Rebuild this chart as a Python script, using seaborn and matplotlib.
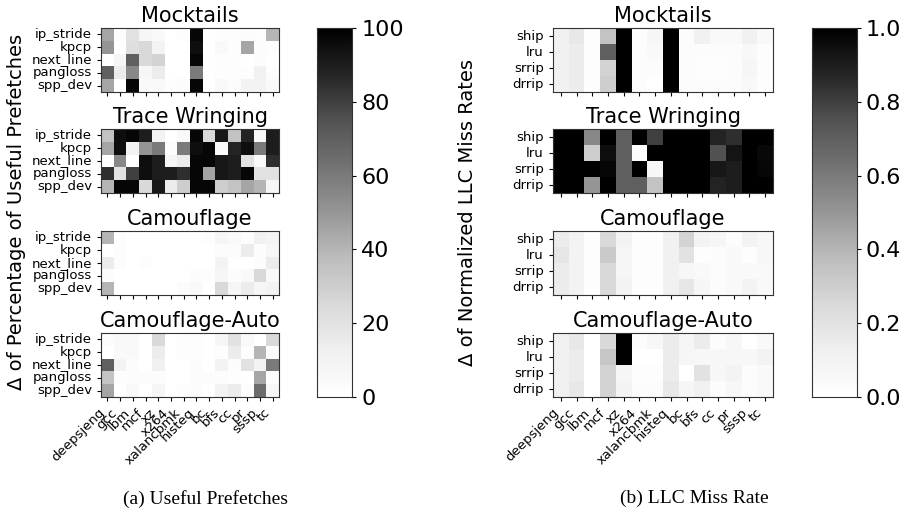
import matplotlib
matplotlib.use("Agg")
import matplotlib.pyplot as plt
import numpy as np
import pandas as pd
import seaborn as sns

BENCHMARKS = ["deepsjeng", "gcc", "lbm", "mcf", "xz", "x264", "xalancbmk",
              "histeq", "bc", "bfs", "cc", "pr", "sssp", "tc"]
PREFETCHERS = ["ip_stride", "kpcp", "next_line", "pangloss", "spp_dev"]
POLICIES = ["ship", "lru", "srrip", "drrip"]
TITLES = ["Mocktails", "Trace Wringing", "Camouflage", "Camouflage-Auto"]

# (a) delta of useful prefetches, percent
pf_mocktails = [
    [45, 3, 20, 8, 5, 0, 2, 98, 0, 2, 2, 3, 2, 40],
    [50, 0, 22, 25, 10, 0, 0, 95, 0, 5, 2, 45, 3, 2],
    [0, 8, 70, 25, 28, 0, 0, 98, 0, 2, 2, 0, 3, 0],
    [70, 15, 55, 8, 15, 0, 0, 60, 0, 2, 2, 2, 12, 2],
    [45, 0, 98, 5, 5, 2, 3, 98, 0, 5, 3, 10, 10, 5],
]
pf_wringing = [
    [35, 95, 98, 90, 10, 0, 5, 98, 25, 92, 35, 88, 5, 90],
    [45, 95, 10, 50, 60, 3, 60, 95, 98, 5, 88, 95, 60, 90],
    [0, 55, 0, 95, 90, 8, 15, 98, 98, 92, 90, 20, 5, 85],
    [85, 20, 80, 95, 90, 90, 85, 98, 45, 92, 90, 98, 20, 20],
    [40, 98, 98, 25, 92, 15, 30, 98, 98, 30, 35, 45, 40, 8],
]
pf_camouflage = [
    [40, 2, 0, 0, 0, 0, 0, 0, 2, 8, 5, 3, 12, 10],
    [0, 2, 0, 0, 0, 0, 0, 0, 0, 3, 3, 15, 3, 8],
    [15, 3, 0, 2, 0, 0, 0, 0, 0, 10, 0, 0, 3, 15],
    [3, 0, 0, 0, 0, 0, 0, 3, 2, 8, 3, 5, 25, 5],
    [40, 0, 0, 0, 0, 0, 3, 5, 0, 25, 8, 15, 8, 10],
]
pf_camo_auto = [
    [3, 5, 5, 0, 25, 0, 2, 2, 0, 8, 20, 5, 0, 25],
    [0, 5, 5, 0, 15, 0, 2, 2, 0, 2, 15, 2, 40, 3],
    [70, 10, 3, 0, 12, 0, 0, 3, 0, 10, 3, 20, 10, 60],
    [35, 2, 3, 3, 3, 0, 0, 3, 3, 3, 2, 0, 45, 3],
    [45, 0, 5, 0, 8, 0, 2, 3, 0, 10, 15, 3, 65, 8],
]

# (b) delta of normalized LLC miss rate
llc_mocktails = [
    [0.12, 0.17, 0.02, 0.35, 1.0, 0.03, 0.08, 1.0, 0.03, 0.12, 0.05, 0.05, 0.12, 0.05],
    [0.12, 0.15, 0.02, 0.70, 1.0, 0.03, 0.05, 1.0, 0.03, 0.03, 0.03, 0.03, 0.06, 0.02],
    [0.12, 0.15, 0.02, 0.28, 1.0, 0.03, 0.03, 1.0, 0.03, 0.02, 0.02, 0.03, 0.08, 0.02],
    [0.12, 0.15, 0.02, 0.30, 1.0, 0.03, 0.00, 1.0, 0.03, 0.03, 0.03, 0.03, 0.06, 0.02],
]
llc_wringing = [
    [1.0, 1.0, 0.55, 1.0, 0.70, 1.0, 0.80, 1.0, 1.0, 1.0, 0.88, 0.85, 1.0, 1.0],
    [1.0, 1.0, 0.30, 0.95, 0.70, 0.02, 1.0, 1.0, 1.0, 1.0, 0.75, 0.93, 1.0, 0.97],
    [1.0, 1.0, 1.0, 0.98, 0.70, 1.0, 0.07, 1.0, 1.0, 1.0, 0.92, 0.90, 1.0, 0.98],
    [1.0, 1.0, 0.50, 1.0, 0.70, 0.70, 0.35, 1.0, 1.0, 1.0, 0.88, 0.90, 1.0, 1.0],
]
llc_camouflage = [
    [0.15, 0.10, 0.02, 0.25, 0.10, 0.02, 0.02, 0.12, 0.28, 0.10, 0.08, 0.03, 0.10, 0.07],
    [0.18, 0.10, 0.02, 0.32, 0.08, 0.02, 0.02, 0.12, 0.20, 0.02, 0.03, 0.05, 0.02, 0.07],
    [0.15, 0.10, 0.02, 0.25, 0.08, 0.02, 0.02, 0.12, 0.07, 0.05, 0.03, 0.05, 0.05, 0.05],
    [0.15, 0.10, 0.02, 0.25, 0.10, 0.02, 0.02, 0.12, 0.18, 0.08, 0.03, 0.05, 0.10, 0.05],
]
llc_camo_auto = [
    [0.12, 0.17, 0.0, 0.25, 1.0, 0.03, 0.07, 0.15, 0.08, 0.15, 0.03, 0.07, 0.0, 0.05],
    [0.12, 0.15, 0.0, 0.33, 1.0, 0.00, 0.00, 0.15, 0.08, 0.07, 0.07, 0.07, 0.07, 0.10],
    [0.12, 0.15, 0.0, 0.28, 0.08, 0.02, 0.02, 0.15, 0.00, 0.20, 0.07, 0.10, 0.03, 0.05],
    [0.12, 0.17, 0.0, 0.28, 0.10, 0.03, 0.03, 0.17, 0.08, 0.12, 0.03, 0.07, 0.03, 0.05],
]


def draw_panel(fig, grids, rows, vmax, left, width, cbar_rect, ylabel, ylabel_x, caption, caption_x):
    bottoms = [0.821, 0.6245, 0.426, 0.2276]
    cax = fig.add_axes(cbar_rect)
    for i, (title, grid) in enumerate(zip(TITLES, grids)):
        ax = fig.add_axes([left, bottoms[i], width, 0.1245])
        frame = pd.DataFrame(grid, index=rows, columns=BENCHMARKS)
        sns.heatmap(frame, ax=ax, cmap="Greys", vmin=0, vmax=vmax,
                    xticklabels=True, yticklabels=True,
                    cbar=(i == 0), cbar_ax=cax if i == 0 else None)
        for spine in ax.spines.values():
            spine.set_visible(True)
            spine.set_color("#333333")
        ax.set_title(title, fontsize=15, pad=4)
        ax.tick_params(axis="both", length=3, labelsize=9.5)
        ax.tick_params(axis="y", rotation=0)
        if i < 3:
            ax.tick_params(axis="x", labelbottom=False)
        else:
            ax.tick_params(axis="x", rotation=45)
            for lab in ax.get_xticklabels():
                lab.set_ha("right")
        ax.set_xlabel("")
        ax.set_ylabel("")
    cax.tick_params(labelsize=16, length=3)
    for spine in cax.spines.values():
        spine.set_visible(True)
        spine.set_color("#333333")
    fig.text(ylabel_x, 0.587, ylabel, rotation=90, ha="center", va="center", fontsize=14)
    fig.text(caption_x, 0.03, caption, ha="center", va="center", fontsize=14,
             family=["Liberation Serif", "DejaVu Serif"])


def main() -> None:
    fig = plt.figure(figsize=(9.06, 5.14), dpi=100)
    draw_panel(fig, [pf_mocktails, pf_wringing, pf_camouflage, pf_camo_auto],
               PREFETCHERS, 100, 0.1115, 0.1965, [0.35, 0.2276, 0.0386, 0.718],
               "Δ of Percentage of Useful Prefetches", 0.018,
               "(a) Useful Prefetches", 0.227)
    draw_panel(fig, [llc_mocktails, llc_wringing, llc_camouflage, llc_camo_auto],
               POLICIES, 1.0, 0.6104, 0.2428, [0.896, 0.2276, 0.0497, 0.718],
               "Δ of Normalized LLC Miss Rates", 0.516,
               "(b) LLC Miss Rate", 0.766)
    fig.savefig("out.png", dpi=100)
    plt.close(fig)


if __name__ == "__main__":
    main()
